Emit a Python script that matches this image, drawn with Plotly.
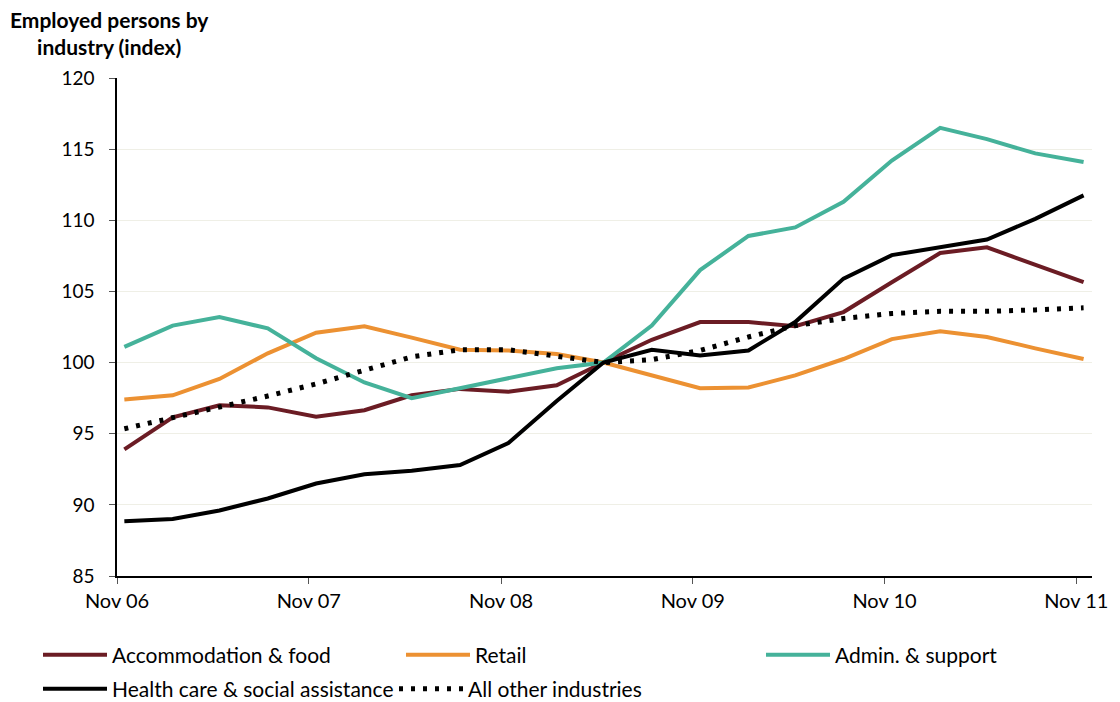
import plotly.graph_objects as go

# Quarterly observation dates (mid-month), Nov 2006 to Nov 2011
quarters = [
    "2006-11-15", "2007-02-15", "2007-05-15", "2007-08-15",
    "2007-11-15", "2008-02-15", "2008-05-15", "2008-08-15",
    "2008-11-15", "2009-02-15", "2009-05-15", "2009-08-15",
    "2009-11-15", "2010-02-15", "2010-05-15", "2010-08-15",
    "2010-11-15", "2011-02-15", "2011-05-15", "2011-08-15",
    "2011-11-15",
]

accommodation_food = [93.9, 96.15, 97.0, 96.85, 96.2, 96.65, 97.7, 98.15, 97.95, 98.4,
                      100.0, 101.6, 102.85, 102.85, 102.55, 103.55, 105.65, 107.7,
                      108.1, 106.9, 105.65]
retail = [97.4, 97.7, 98.85, 100.65, 102.1, 102.55, 101.75, 100.9, 100.85, 100.6,
          100.0, 99.1, 98.2, 98.25, 99.1, 100.25, 101.65, 102.2, 101.8, 101.0, 100.25]
admin_support = [101.1, 102.6, 103.2, 102.4, 100.3, 98.6, 97.5, 98.2, 98.9, 99.6,
                 100.0, 102.6, 106.5, 108.9, 109.5, 111.3, 114.2, 116.5, 115.7, 114.7,
                 114.1]
health_care = [88.85, 89.0, 89.6, 90.45, 91.5, 92.15, 92.4, 92.8, 94.35, 97.3,
               100.0, 100.9, 100.5, 100.85, 102.85, 105.9, 107.55, 108.1, 108.65,
               110.1, 111.75]
all_other = [95.35, 96.1, 96.85, 97.65, 98.5, 99.5, 100.4, 100.9, 100.9, 100.45,
             100.0, 100.2, 100.85, 101.8, 102.6, 103.1, 103.45, 103.6, 103.6, 103.7,
             103.85]

tick_dates = ["2006-11-01", "2007-11-01", "2008-11-01",
              "2009-11-01", "2010-11-01", "2011-11-01"]
tick_labels = ["Nov 06", "Nov 07", "Nov 08", "Nov 09", "Nov 10", "Nov 11"]
y_ticks = [85, 90, 95, 100, 105, 110, 115, 120]

FONT = "Lato, 'Open Sans', sans-serif"

# name, values, colour, dash, width, legend id, legend anchor (px from left, px from top)
series = [
    ("Accommodation & food", accommodation_food, "#6b1c24", "solid", 4, "legend", 38, 655),
    ("Retail", retail, "#ec9132", "solid", 4, "legend2", 401, 655),
    ("Admin. & support", admin_support, "#45b29a", "solid", 4, "legend3", 761, 655),
    ("Health care & social assistance", health_care, "#000000", "solid", 4, "legend4", 38, 689),
    ("All other industries", all_other, "#000000", "4px,8px", 5, "legend5", 394, 689),
]

W, H = 1120, 702

fig = go.Figure()
legends = {}
for name, values, color, dash, width, leg, lx, ly in series:
    fig.add_trace(go.Scatter(
        x=quarters, y=values, name=name, mode="lines",
        line=dict(color=color, width=width, dash=dash),
        legend=leg,
    ))
    legends[leg] = dict(
        orientation="h", xref="container", yref="container",
        x=lx / W, y=1 - ly / H, xanchor="left", yanchor="middle",
        itemwidth=64, bgcolor="rgba(0,0,0,0)",
        font=dict(family=FONT, size=21, color="black"),
    )

fig.update_layout(
    width=W, height=H,
    margin=dict(l=117, r=28, t=78, b=126, autoexpand=False),
    paper_bgcolor="white", plot_bgcolor="white",
    font=dict(family=FONT, size=20, color="black"),
    showlegend=True,
    annotations=[dict(
        text="<b>Employed persons by<br>industry (index)</b>",
        xref="paper", yref="paper", x=-0.0072, y=1.146,
        xanchor="center", yanchor="top", showarrow=False, align="center",
        font=dict(family=FONT, size=21, color="black"),
    )],
    **legends,
)

fig.update_xaxes(
    type="date", range=["2006-11-01", "2011-12-01"],
    tickvals=tick_dates, ticktext=tick_labels,
    showline=True, linecolor="black", linewidth=1.5,
    ticks="outside", ticklen=6, tickcolor="#555555",
    ticklabelstandoff=0,
    showgrid=False, zeroline=False,
    tickfont=dict(family=FONT, size=20, color="black"),
)
fig.update_yaxes(
    range=[85, 120], tickvals=y_ticks,
    showline=True, linecolor="black", linewidth=1.5,
    ticks="outside", ticklen=6, tickcolor="#555555",
    ticklabelstandoff=11,
    showgrid=True, gridcolor="#efefe6", gridwidth=1,
    zeroline=False,
    tickfont=dict(family=FONT, size=19, color="black"),
)

fig.write_html("out.html")
